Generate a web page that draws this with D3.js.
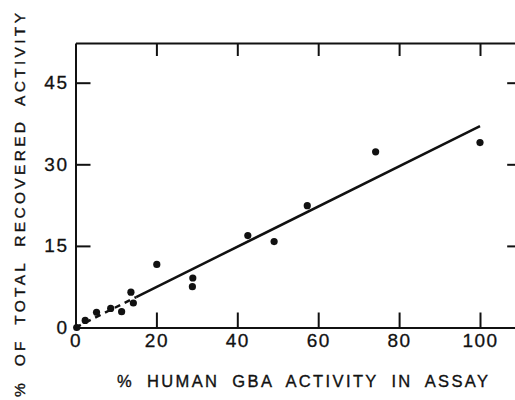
<!DOCTYPE html>
<html>
<head>
<meta charset="utf-8">
<script src="https://cdn.jsdelivr.net/npm/d3@7"></script>
<style>
  body { margin: 0; background: #fff; }
  svg { display: block; }
  .axis path, .axis line { stroke: #111; stroke-width: 2px; }
  .axis text { font-family: "Liberation Sans", Arial, sans-serif; font-size: 19px; fill: #111; letter-spacing: 1.5px; stroke: #111; stroke-width: 0.3px; }
  .axis-title { font-family: "Liberation Sans", Arial, sans-serif; fill: #111; stroke: #111; stroke-width: 0.35px; word-spacing: 6px; }
</style>
</head>
<body>
<div id="cnv"></div>
<script>
var width = 515, height = 400;

// data
var gbaPct    = [0.3, 2.4, 5.2, 8.7, 11.4, 13.7, 14.3, 20.1, 29.0, 28.9, 42.6, 49.1, 57.3, 74.2, 100];
var recovered = [0, 1.3, 2.8, 3.5, 2.9, 6.5, 4.5, 11.6, 9.1, 7.5, 16.9, 15.8, 22.4, 32.3, 34.0];
var dashedFit = [[0, 0], [15, 5.6]];
var solidFit  = [[15, 5.6], [100, 37]];
var xTicks = [0, 20, 40, 60, 80, 100];
var yTicks = [0, 15, 30, 45];
var xMax = 108.7, yMax = 52.3;

var svg = d3.select("#cnv").append("svg")
  .attr("width", width)
  .attr("height", height);

var xScale = d3.scaleLinear().domain([0, xMax]).range([75.5, 75.5 + xMax * 4.045]);
var yScale = d3.scaleLinear().domain([0, yMax]).range([327.5, 327.5 - yMax * 5.44]);

// bottom axis, ticks pointing up into the plot
svg.append("g")
  .attr("class", "axis")
  .attr("transform", "translate(0," + yScale(0) + ")")
  .call(d3.axisBottom(xScale).tickValues(xTicks).tickSizeInner(-15).tickSizeOuter(0).tickPadding(6));

// top axis, no labels
svg.append("g")
  .attr("class", "axis")
  .attr("transform", "translate(0," + yScale(yMax) + ")")
  .call(d3.axisTop(xScale).tickValues(xTicks.slice(1)).tickSizeInner(-13).tickSizeOuter(0).tickFormat(""));

// left axis
svg.append("g")
  .attr("class", "axis")
  .attr("transform", "translate(" + xScale(0) + ",0)")
  .call(d3.axisLeft(yScale).tickValues(yTicks).tickSizeInner(-15).tickSizeOuter(0).tickPadding(7));

// right side ticks
svg.append("g")
  .attr("class", "axis")
  .attr("transform", "translate(" + xScale(xMax) + ",0)")
  .call(d3.axisRight(yScale).tickValues(yTicks.slice(1)).tickSizeInner(-8).tickSizeOuter(0).tickFormat(""))
  .select(".domain").remove();

var line = d3.line()
  .x(function(d){ return xScale(d[0]); })
  .y(function(d){ return yScale(d[1]); });

svg.append("path")
  .datum(dashedFit)
  .attr("d", line)
  .attr("fill", "none")
  .attr("stroke", "#111")
  .attr("stroke-width", 2.5)
  .attr("stroke-dasharray", "6,5");

svg.append("path")
  .datum(solidFit)
  .attr("d", line)
  .attr("fill", "none")
  .attr("stroke", "#111")
  .attr("stroke-width", 2.5);

svg.append("g").selectAll("circle")
  .data(gbaPct)
  .enter().append("circle")
  .attr("cx", function(d){ return xScale(d); })
  .attr("cy", function(d, i){ return yScale(recovered[i]); })
  .attr("r", 3.6)
  .attr("fill", "#111");

//axis labels
svg.append("text")
  .attr("class", "axis-title")
  .attr("x", 117)
  .attr("y", 387)
  .attr("font-size", 16.5)
  .attr("textLength", 371)
  .attr("lengthAdjust", "spacing")
  .text("% HUMAN GBA ACTIVITY IN ASSAY");

svg.append("text")
  .attr("class", "axis-title")
  .attr("transform", "translate(25,397) rotate(-90)")
  .attr("font-size", 15.5)
  .attr("textLength", 384)
  .attr("lengthAdjust", "spacing")
  .text("% OF TOTAL RECOVERED ACTIVITY");
</script>
</body>
</html>
